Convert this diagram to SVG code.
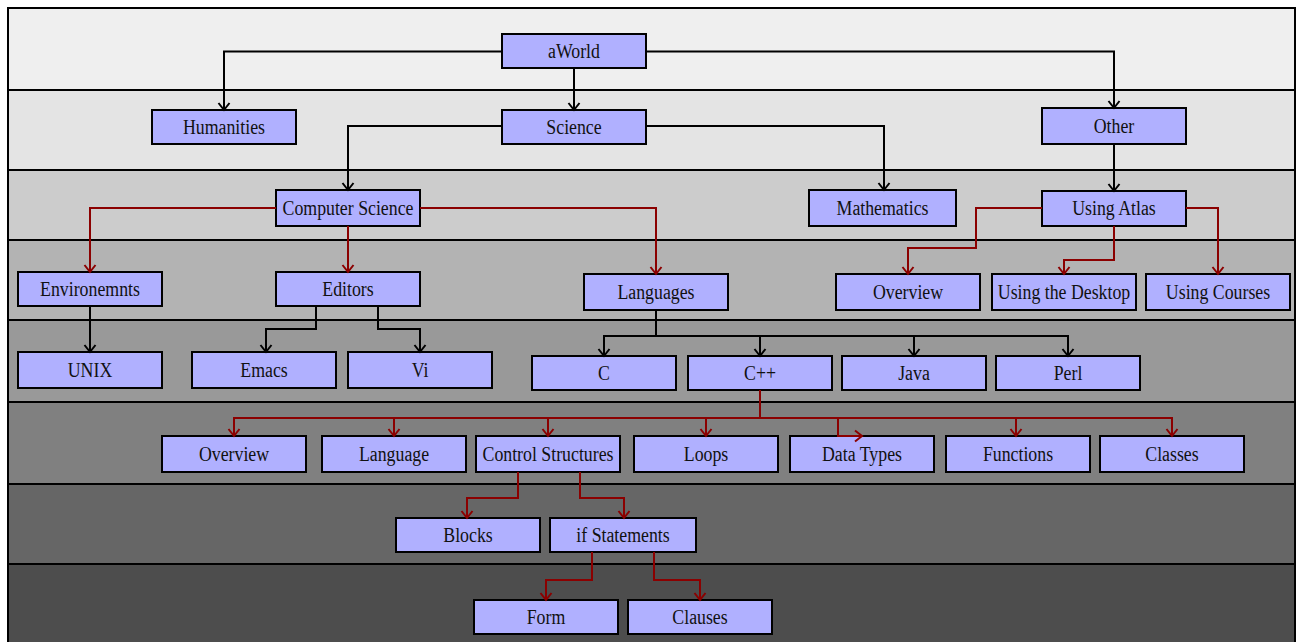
<svg xmlns="http://www.w3.org/2000/svg" width="1297" height="642" viewBox="0 0 1297 642">
  <style>
    .band { stroke: #000; stroke-width: 2; }
    .node rect { fill: #b0b0ff; stroke: #000; stroke-width: 2; }
    .node text { font-family: "Liberation Serif", "Times New Roman", serif; font-size: 20px; fill: #111; text-anchor: middle; transform: scale(0.89, 1); }
    .blk { fill: none; stroke: #000; stroke-width: 2; marker-end: url(#arrBlk); }
    .red { fill: none; stroke: #8b0000; stroke-width: 2; marker-end: url(#arrRed); }
  </style>
  <defs>
    <marker id="arrBlk" markerUnits="userSpaceOnUse" markerWidth="14" markerHeight="14" refX="0" refY="0" viewBox="-8 -7 10 14" orient="auto" overflow="visible">
      <path d="M-7,-5.5 L0,0 L-7,5.5" fill="none" stroke="#000" stroke-width="2"/>
    </marker>
    <marker id="arrRed" markerUnits="userSpaceOnUse" markerWidth="14" markerHeight="14" refX="0" refY="0" viewBox="-8 -7 10 14" orient="auto" overflow="visible">
      <path d="M-7,-5.5 L0,0 L-7,5.5" fill="none" stroke="#8b0000" stroke-width="2"/>
    </marker>
  </defs>

  <!-- level bands, light to dark -->
  <g id="bands">
    <rect class="band" x="8" y="8" width="1287" height="82" fill="#efefef"/>
    <rect class="band" x="8" y="90" width="1287" height="80" fill="#e4e4e4"/>
    <rect class="band" x="8" y="170" width="1287" height="70" fill="#cccccc"/>
    <rect class="band" x="8" y="240" width="1287" height="80" fill="#b3b3b3"/>
    <rect class="band" x="8" y="320" width="1287" height="82" fill="#999999"/>
    <rect class="band" x="8" y="402" width="1287" height="82" fill="#808080"/>
    <rect class="band" x="8" y="484" width="1287" height="80" fill="#666666"/>
    <rect class="band" x="8" y="564" width="1287" height="90" fill="#4d4d4d"/>
  </g>

  <!-- nodes -->
  <g id="n-aworld" class="node" transform="translate(574,51)"><rect x="-72" y="-17" width="144" height="34"/><text x="0" y="6.5">aWorld</text></g>
  <g id="n-humanities" class="node" transform="translate(224,127)"><rect x="-72" y="-17" width="144" height="34"/><text x="0" y="6.5">Humanities</text></g>
  <g id="n-science" class="node" transform="translate(574,127)"><rect x="-72" y="-17" width="144" height="34"/><text x="0" y="6.5">Science</text></g>
  <g id="n-other" class="node" transform="translate(1114,126)"><rect x="-72" y="-18" width="144" height="36"/><text x="0" y="6.5">Other</text></g>

  <g id="n-compsci" class="node" transform="translate(348,208)"><rect x="-72" y="-18" width="144" height="36"/><text x="0" y="6.5">Computer Science</text></g>
  <g id="n-math" class="node" transform="translate(882.5,208)"><rect x="-73.5" y="-18" width="147" height="36"/><text x="0" y="6.5">Mathematics</text></g>
  <g id="n-atlas" class="node" transform="translate(1114,208.5)"><rect x="-72" y="-17.5" width="144" height="35"/><text x="0" y="6.5">Using Atlas</text></g>

  <g id="n-env" class="node" transform="translate(90,289)"><rect x="-72" y="-17" width="144" height="34"/><text x="0" y="6.5">Environemnts</text></g>
  <g id="n-editors" class="node" transform="translate(348,289)"><rect x="-72" y="-17" width="144" height="34"/><text x="0" y="6.5">Editors</text></g>
  <g id="n-languages" class="node" transform="translate(656,292)"><rect x="-72" y="-18" width="144" height="36"/><text x="0" y="6.5">Languages</text></g>
  <g id="n-overview-a" class="node" transform="translate(908,292)"><rect x="-72" y="-18" width="144" height="36"/><text x="0" y="6.5">Overview</text></g>
  <g id="n-desktop" class="node" transform="translate(1064,292)"><rect x="-72" y="-18" width="144" height="36"/><text x="0" y="6.5">Using the Desktop</text></g>
  <g id="n-courses" class="node" transform="translate(1218,292)"><rect x="-72" y="-18" width="144" height="36"/><text x="0" y="6.5">Using Courses</text></g>

  <g id="n-unix" class="node" transform="translate(90,370)"><rect x="-72" y="-18" width="144" height="36"/><text x="0" y="6.5">UNIX</text></g>
  <g id="n-emacs" class="node" transform="translate(264,370)"><rect x="-72" y="-18" width="144" height="36"/><text x="0" y="6.5">Emacs</text></g>
  <g id="n-vi" class="node" transform="translate(420,370)"><rect x="-72" y="-18" width="144" height="36"/><text x="0" y="6.5">Vi</text></g>
  <g id="n-c" class="node" transform="translate(604,373)"><rect x="-72" y="-17" width="144" height="34"/><text x="0" y="6.5">C</text></g>
  <g id="n-cpp" class="node" transform="translate(760,373)"><rect x="-72" y="-17" width="144" height="34"/><text x="0" y="6.5">C++</text></g>
  <g id="n-java" class="node" transform="translate(914,373)"><rect x="-72" y="-17" width="144" height="34"/><text x="0" y="6.5">Java</text></g>
  <g id="n-perl" class="node" transform="translate(1068,373)"><rect x="-72" y="-17" width="144" height="34"/><text x="0" y="6.5">Perl</text></g>

  <g id="n-overview-c" class="node" transform="translate(234,454)"><rect x="-72" y="-18" width="144" height="36"/><text x="0" y="6.5">Overview</text></g>
  <g id="n-language" class="node" transform="translate(394,454)"><rect x="-72" y="-18" width="144" height="36"/><text x="0" y="6.5">Language</text></g>
  <g id="n-control" class="node" transform="translate(548,454)"><rect x="-72" y="-18" width="144" height="36"/><text x="0" y="6.5">Control Structures</text></g>
  <g id="n-loops" class="node" transform="translate(706,454)"><rect x="-72" y="-18" width="144" height="36"/><text x="0" y="6.5">Loops</text></g>
  <g id="n-datatypes" class="node" transform="translate(862,454)"><rect x="-72" y="-18" width="144" height="36"/><text x="0" y="6.5">Data Types</text></g>
  <g id="n-functions" class="node" transform="translate(1018,454)"><rect x="-72" y="-18" width="144" height="36"/><text x="0" y="6.5">Functions</text></g>
  <g id="n-classes" class="node" transform="translate(1172,454)"><rect x="-72" y="-18" width="144" height="36"/><text x="0" y="6.5">Classes</text></g>

  <g id="n-blocks" class="node" transform="translate(468,535)"><rect x="-72" y="-17" width="144" height="34"/><text x="0" y="6.5">Blocks</text></g>
  <g id="n-if" class="node" transform="translate(623,535)"><rect x="-73" y="-17" width="146" height="34"/><text x="0" y="6.5">if Statements</text></g>

  <g id="n-form" class="node" transform="translate(546,617)"><rect x="-72" y="-17" width="144" height="34"/><text x="0" y="6.5">Form</text></g>
  <g id="n-clauses" class="node" transform="translate(700,617)"><rect x="-72" y="-17" width="144" height="34"/><text x="0" y="6.5">Clauses</text></g>

  <!-- connectors, drawn above the nodes -->
  <g id="connectors">
    <path class="blk" d="M502,51.5 H224 V110"/>
    <path class="blk" d="M574,68 V110"/>
    <path class="blk" d="M646,51.5 H1114 V108"/>
    <path class="blk" d="M502,126 H348 V190"/>
    <path class="blk" d="M646,126 H884 V190"/>
    <path class="blk" d="M1114,144 V191"/>
    <path class="blk" d="M90,306 V352"/>
    <path class="blk" d="M316,306 V329 H266 V352"/>
    <path class="blk" d="M378,306 V329 H420 V352"/>
    <path class="blk" d="M656,310 V336 H604 V356"/>
    <path class="blk" d="M656,336 H760 V356"/>
    <path class="blk" d="M656,336 H914 V356"/>
    <path class="blk" d="M656,336 H1068 V356"/>

    <path class="red" d="M276,208 H90 V272"/>
    <path class="red" d="M348,226 V272"/>
    <path class="red" d="M420,208 H656 V274"/>
    <path class="red" d="M1042,208 H976 V248 H908 V274"/>
    <path class="red" d="M1114,226 V260 H1064 V274"/>
    <path class="red" d="M1186,208 H1218 V274"/>

    <path class="red" d="M760,390 V418 H234 V436"/>
    <path class="red" d="M760,418 H394 V436"/>
    <path class="red" d="M760,418 H548 V436"/>
    <path class="red" d="M760,418 H706 V436"/>
    <path class="red" d="M760,418 H838 V436 H862"/>
    <path class="red" d="M760,418 H1016 V436"/>
    <path class="red" d="M760,418 H1172 V436"/>

    <path class="red" d="M518,472 V498 H467 V518"/>
    <path class="red" d="M580,472 V498 H624 V518"/>
    <path class="red" d="M592,552 V580 H546 V600"/>
    <path class="red" d="M654,552 V580 H700 V600"/>
  </g>
</svg>
